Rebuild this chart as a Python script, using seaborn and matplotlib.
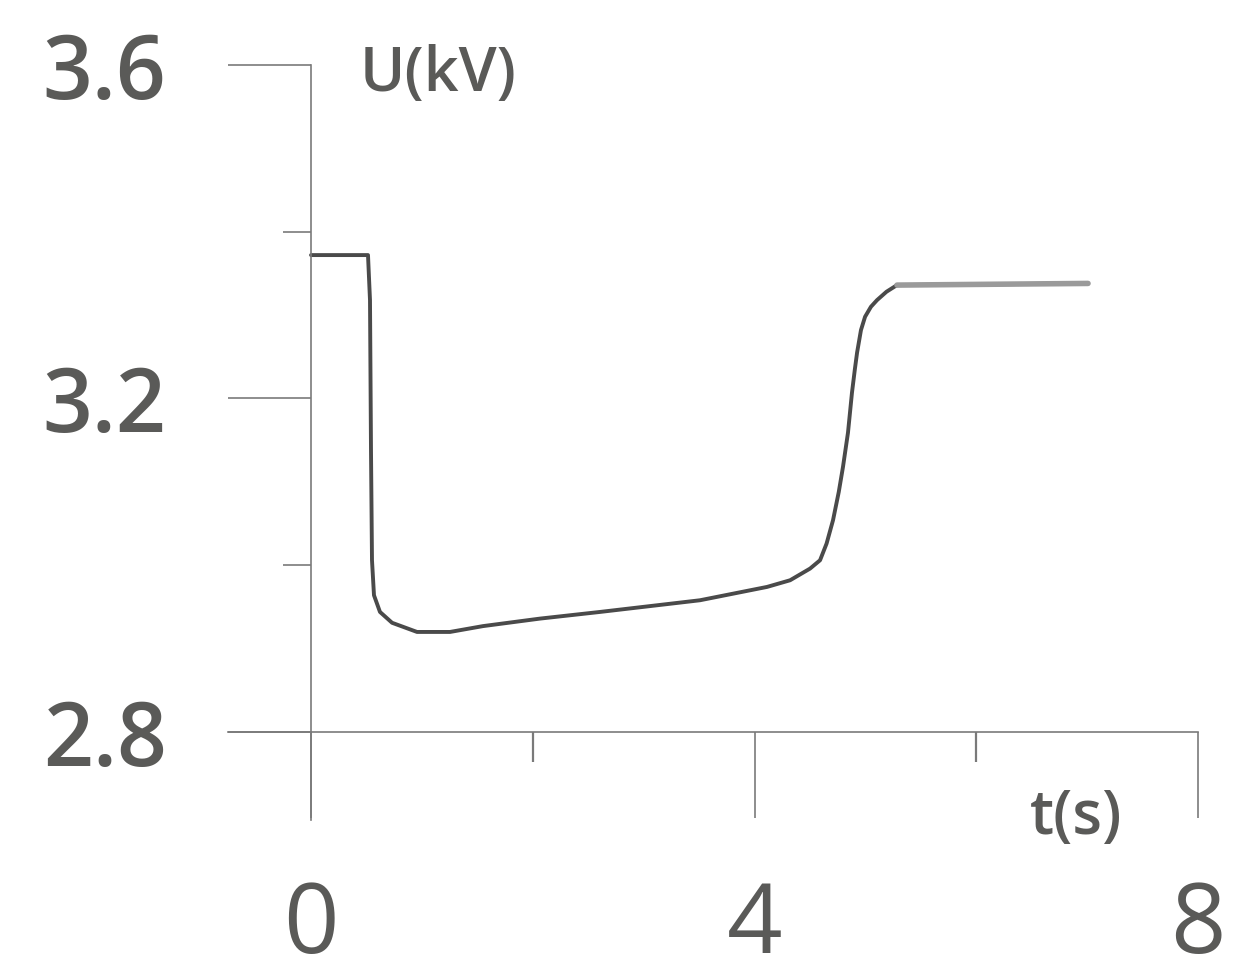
import matplotlib
matplotlib.use("Agg")
import matplotlib.pyplot as plt
from matplotlib.ticker import FixedLocator
import seaborn as sns
import pandas as pd

# Voltage trace U(t)
time_s = [0.0, 0.514, 0.532, 0.541, 0.550, 0.568, 0.622, 0.731, 0.956, 1.254,
          1.551, 2.065, 2.607, 3.508, 4.113, 4.321, 4.501, 4.591, 4.650, 4.708,
          4.760, 4.798, 4.843, 4.879, 4.905, 4.925, 4.960, 4.997, 5.050, 5.105,
          5.190, 5.285, 7.008]
voltage_kv = [3.372, 3.372, 3.318, 3.138, 3.006, 2.964, 2.944, 2.931, 2.920, 2.920,
              2.927, 2.936, 2.944, 2.958, 2.974, 2.982, 2.996, 3.006, 3.026, 3.054,
              3.088, 3.118, 3.159, 3.207, 3.235, 3.255, 3.282, 3.298, 3.310, 3.318,
              3.328, 3.336, 3.338]
plateau_from = 31  # index where the steady plateau begins

x_major = [0, 4, 8]
x_minor = [2, 6]
y_major = [2.8, 3.2, 3.6]
y_minor = [3.0, 3.4]
x_labels = ["0", "4", "8"]
y_labels = ["2.8", "3.2", "3.6"]

sns.set_theme(style="white")
plt.rcParams["font.family"] = ["Open Sans", "DejaVu Sans"]

text_col = "#5a5a58"
axis_col = "#7a7a7a"

df = pd.DataFrame({"t": time_s, "U": voltage_kv})

fig = plt.figure(figsize=(12.38, 9.77), dpi=100)
ax = fig.add_axes([0.17957, 0.14836, 0.79709, 0.80220])
ax.set_facecolor("white")

sns.lineplot(data=df, x="t", y="U", ax=ax, estimator=None, sort=False,
             color="#4a4a4a", linewidth=2.8)
sns.lineplot(data=df.iloc[plateau_from:], x="t", y="U", ax=ax, estimator=None,
             sort=False, color="#9a9a9a", linewidth=4.0)

ax.set_xlim(-0.8, 8.1)
ax.set_ylim(2.68, 3.62)

for side in ("top", "right"):
    ax.spines[side].set_visible(False)
ax.spines["left"].set_position(("data", 0))
ax.spines["left"].set_bounds(2.694, 3.6)
ax.spines["bottom"].set_position(("data", 2.8))
ax.spines["bottom"].set_bounds(-0.745, 8.0)
for side in ("left", "bottom"):
    ax.spines[side].set_color(axis_col)
    ax.spines[side].set_linewidth(1.2)

ax.xaxis.set_major_locator(FixedLocator(x_major))
ax.xaxis.set_minor_locator(FixedLocator(x_minor))
ax.yaxis.set_major_locator(FixedLocator(y_major))
ax.yaxis.set_minor_locator(FixedLocator(y_minor))
ax.set_xticklabels(x_labels)
ax.set_yticklabels(y_labels, fontweight="semibold")

ax.tick_params(axis="x", which="major", direction="out", length=62, width=1.2,
               color=axis_col, pad=44, labelsize=70, labelcolor=text_col,
               bottom=True)
ax.tick_params(axis="x", which="minor", direction="out", length=21.6, width=1.6,
               color=axis_col, bottom=True)
ax.tick_params(axis="y", which="major", direction="out", length=60, width=1.2,
               color=axis_col, pad=44, labelsize=63, labelcolor=text_col,
               left=True)
ax.tick_params(axis="y", which="minor", direction="out", length=20, width=1.2,
               color=axis_col, left=True)

ax.set_xlabel("")
ax.set_ylabel("")
ax.text(0.44, 3.588, "U(kV)", fontsize=44, fontweight="semibold", color=text_col,
        va="center", ha="left")
ax.text(6.48, 2.697, "t(s)", fontsize=44, fontweight="semibold", color=text_col,
        va="center", ha="left")

fig.savefig("out.png", dpi=100, facecolor="white")
